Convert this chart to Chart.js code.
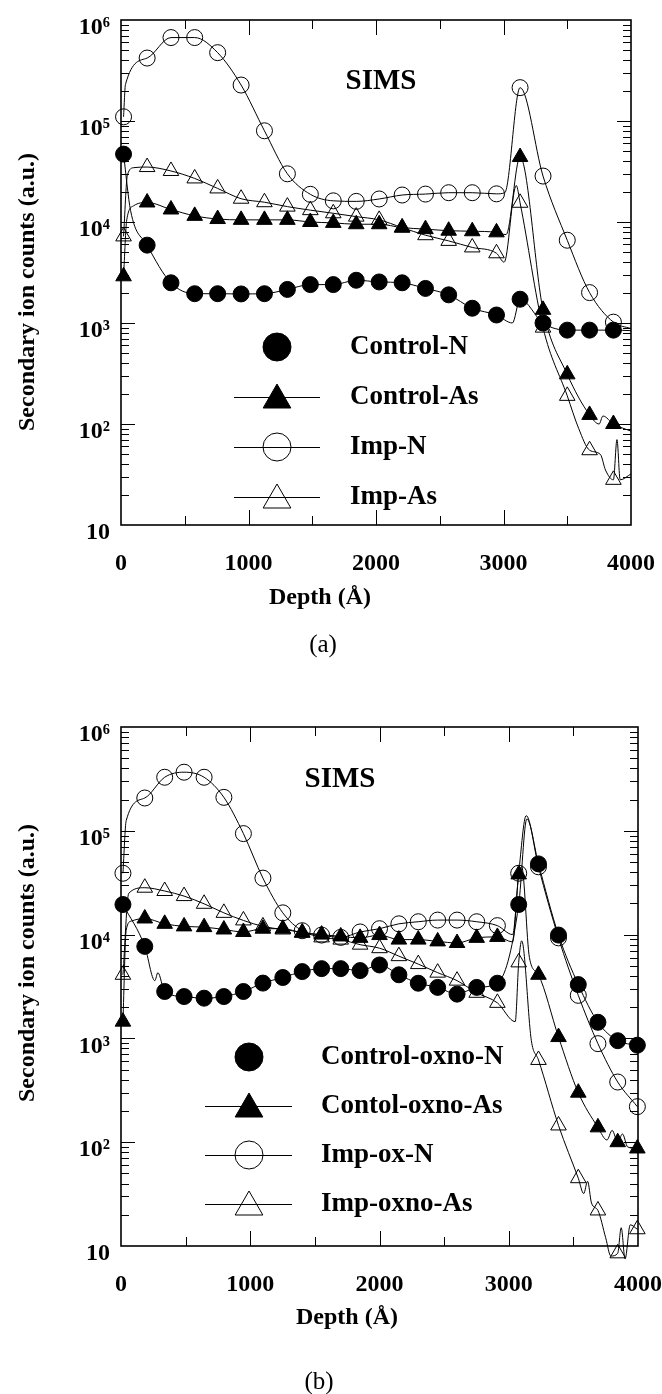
<!DOCTYPE html>
<html>
<head>
<meta charset="utf-8">
<script src="https://cdn.jsdelivr.net/npm/chart.js@4.4.1/dist/chart.umd.min.js"></script>
<style>
  body { margin: 0; background: #fff; }
  .panel { position: absolute; left: 0; width: 662px; height: 697px; }
  #pa { top: 0; }
  #pb { top: 697px; }
</style>
</head>
<body>
<div class="panel" id="pa"><canvas id="chartA"></canvas></div>
<div class="panel" id="pb"><canvas id="chartB"></canvas></div>
<script>
// ---- panel (a) ----
const depthA = [20, 205, 392, 578, 758, 942, 1125, 1305, 1485, 1665, 1845, 2025, 2205, 2388, 2570, 2755, 2945, 3130, 3310, 3500, 3675, 3862];
const controlN = [4.7e4, 5.9e3, 2.5e3, 1.95e3, 1.95e3, 1.94e3, 1.95e3, 2.15e3, 2.4e3, 2.4e3, 2.65e3, 2.55e3, 2.5e3, 2.2e3, 1.9e3, 1.4e3, 1.2e3, 1.72e3, 1.0e3, 8.5e2, 8.5e2, 8.5e2];
const controlAs = [2.9e3, 1.56e4, 1.33e4, 1.15e4, 1.07e4, 1.05e4, 1.05e4, 1.05e4, 1.0e4, 9.8e3, 9.5e3, 9.5e3, 8.8e3, 8.5e3, 8.2e3, 8.1e3, 7.9e3, 4.4e4, 1.35e3, 3.1e2, 1.23e2, 1.0e2];
const impN = [1.1e5, 4.2e5, 6.7e5, 6.7e5, 4.75e5, 2.27e5, 8.0e4, 3.0e4, 1.88e4, 1.62e4, 1.6e4, 1.69e4, 1.85e4, 1.89e4, 1.95e4, 1.95e4, 1.9e4, 2.14e5, 2.85e4, 6.6e3, 2.0e3, 1.02e3];
const impAs = [7.2e3, 3.5e4, 3.2e4, 2.7e4, 2.15e4, 1.7e4, 1.57e4, 1.42e4, 1.31e4, 1.22e4, 1.13e4, 1.05e4, 8.8e3, 7.4e3, 6.5e3, 5.6e3, 4.9e3, 1.55e4, 9.0e2, 1.9e2, 5.5e1, 2.8e1];
// profile points between the markers (no symbol)
const controlN_line = [[75, 1.3e4], [3070, 1.0e3], [4000, 8.4e2]];
const controlAs_line = [[45, 1.05e4], [100, 1.45e4], [3020, 7.5e3], [3750, 1.0e2], [3780, 1.2e2], [4000, 8.5e1]];
const impN_line = [[35, 2.3e5], [3010, 1.95e4], [4000, 8.8e2]];
const impAs_line = [[50, 2.9e4], [100, 3.45e4], [3005, 4.0e3], [3100, 2.3e4], [3590, 9e1], [3760, 5e1], [3800, 3.5e1], [3890, 7e1], [3915, 2.8e1], [4000, 3.2e1]];

// ---- panel (b) ----
const depthB = [15, 184, 338, 488, 643, 796, 947, 1098, 1252, 1402, 1552, 1700, 1850, 2000, 2150, 2300, 2450, 2600, 2752, 2912, 3077, 3230, 3385, 3538, 3690, 3843, 3995];
const controlOxN = [1.95e4, 7.7e3, 2.83e3, 2.53e3, 2.44e3, 2.53e3, 2.83e3, 3.41e3, 3.86e3, 4.4e3, 4.7e3, 4.7e3, 4.5e3, 5.1e3, 4.1e3, 3.4e3, 3.1e3, 2.67e3, 3.1e3, 3.4e3, 1.95e4, 4.8e4, 9.9e3, 3.3e3, 1.43e3, 9.5e2, 8.6e2];
const controlOxAs = [1.45e3, 1.43e4, 1.27e4, 1.2e4, 1.18e4, 1.12e4, 1.06e4, 1.14e4, 1.14e4, 1.04e4, 1.0e4, 9.6e3, 9.3e3, 9.9e3, 8.95e3, 8.95e3, 8.6e3, 8.3e3, 9.3e3, 9.5e3, 3.8e4, 4.1e3, 1.03e3, 3.0e2, 1.39e2, 1.0e2, 8.7e1];
const impOxN = [3.9e4, 2.07e5, 3.28e5, 3.67e5, 3.28e5, 2.1e5, 9.4e4, 3.5e4, 1.62e4, 1.09e4, 9.9e3, 9.4e3, 1.06e4, 1.14e4, 1.27e4, 1.33e4, 1.38e4, 1.38e4, 1.33e4, 1.22e4, 3.9e4, 4.5e4, 9.3e3, 2.6e3, 8.9e2, 3.8e2, 2.2e2];
const impOxAs = [4.1e3, 2.83e4, 2.63e4, 2.35e4, 1.98e4, 1.62e4, 1.37e4, 1.2e4, 1.12e4, 1.05e4, 9.4e3, 8.95e3, 8.0e3, 7.4e3, 6.2e3, 5.2e3, 4.3e3, 3.6e3, 2.75e3, 2.2e3, 5.4e3, 6.2e2, 1.45e2, 4.5e1, 2.2e1, 8.5, 1.45e1];
const controlOxN_line = [[262, 3.6e3], [285, 4.3e3], [3140, 1.3e5]];
const controlOxAs_line = [[40, 1.1e4], [80, 1.35e4], [3030, 8.5e3], [3100, 4.5e4], [3160, 6e3], [3760, 1.05e2], [3800, 1.3e2], [3880, 1.2e2], [3920, 9e1]];
const impOxN_line = [[40, 1.25e5], [3030, 1.0e4], [3135, 1.4e5]];
const impOxAs_line = [[60, 2.5e4], [3050, 1.45e3], [3100, 8.7e3], [3175, 9.5e2], [3580, 3.2e1], [3610, 4.2e1], [3640, 2.6e1], [3750, 1.2e1], [3790, 8], [3870, 1.5e1], [3900, 7.5], [3940, 1.6e1]];

const xTicks = [0, 1000, 2000, 3000, 4000];
const decades = [10, 1e2, 1e3, 1e4, 1e5, 1e6];
const sup = { 1: '', 2: '²', 3: '³', 4: '⁴', 5: '⁵', 6: '⁶' };
const xTitle = 'Depth (Å)';
const yTitle = 'Secondary ion counts (a.u.)';
const serif = '"Liberation Serif", "Times New Roman", serif';

function profile(depth, counts, extra) {
  const pts = depth.map((d, i) => ({ x: d, y: counts[i], m: true }))
    .concat(extra.map(p => ({ x: p[0], y: p[1], m: false })));
  return pts.sort((a, b) => a.x - b.x);
}

function serie(label, pts, style, filled, r, legendLine) {
  return {
    label: label,
    data: pts,
    borderColor: '#000',
    borderWidth: 1,
    cubicInterpolationMode: 'monotone',
    pointStyle: style,
    pointRadius: ctx => (ctx.raw && ctx.raw.m ? r : 0),
    pointBorderWidth: 1,
    pointBorderColor: '#000',
    pointBackgroundColor: filled ? '#000' : 'rgba(0,0,0,0)',
    clip: false,
    legendLine: legendLine
  };
}

// frame with inward ticks on all sides
const frame = {
  id: 'frame',
  beforeDatasetsDraw(chart) {
    const { ctx, chartArea: a, scales: { x, y } } = chart;
    ctx.save();
    ctx.strokeStyle = '#000';
    ctx.lineWidth = 1;
    ctx.beginPath();
    for (let d = 500; d < 4000; d += 500) {
      const px = Math.round(x.getPixelForValue(d)) + 0.5;
      const len = d % 1000 === 0 ? 15 : 9;
      ctx.moveTo(px, a.top); ctx.lineTo(px, a.top + len);
      ctx.moveTo(px, a.bottom); ctx.lineTo(px, a.bottom - len);
    }
    for (let e = 1; e < 6; e++) {
      for (let k = 1; k < 10; k++) {
        if (e === 1 && k === 1) continue;
        const py = Math.round(y.getPixelForValue(k * Math.pow(10, e))) + 0.5;
        const len = k === 1 ? 14 : 8;
        ctx.moveTo(a.left, py); ctx.lineTo(a.left + len, py);
        ctx.moveTo(a.right, py); ctx.lineTo(a.right - len, py);
      }
    }
    ctx.stroke();
    ctx.lineWidth = 1.6;
    ctx.strokeRect(a.left, a.top, a.right - a.left, a.bottom - a.top);
    ctx.restore();
  }
};

// titles, SIMS mark, panel tag and the legend box
const deco = {
  id: 'deco',
  afterDraw(chart, args, o) {
    const ctx = chart.ctx;
    ctx.save();
    ctx.fillStyle = '#000';
    ctx.strokeStyle = '#000';
    ctx.textBaseline = 'middle';
    ctx.textAlign = 'center';
    ctx.font = 'bold 24px ' + serif;
    ctx.fillText(xTitle, o.xTitle[0], o.xTitle[1]);
    ctx.save();
    ctx.translate(o.yTitle[0], o.yTitle[1]);
    ctx.rotate(-Math.PI / 2);
    ctx.fillText(yTitle, 0, 0);
    ctx.restore();
    ctx.font = 'bold 29px ' + serif;
    ctx.fillText('SIMS', o.sims[0], o.sims[1]);
    ctx.font = '25px ' + serif;
    ctx.fillText(o.tag, o.tagPos[0], o.tagPos[1]);

    const lg = o.legend;
    ctx.textAlign = 'left';
    ctx.font = 'bold 27px ' + serif;
    chart.data.datasets.forEach((ds, i) => {
      const cy = lg.y0 + i * lg.gap;
      ctx.lineWidth = 1;
      if (ds.legendLine) {
        ctx.beginPath();
        ctx.moveTo(lg.l0, cy + 0.5);
        ctx.lineTo(lg.l1, cy + 0.5);
        ctx.stroke();
      }
      ctx.fillStyle = ds.pointBackgroundColor;
      const r = ds.pointStyle === 'triangle' ? 16 : 14;
      const dy = ds.pointStyle === 'triangle' ? 3 : 0;
      Chart.helpers.drawPoint(ctx, { pointStyle: ds.pointStyle, radius: r, borderWidth: 1, rotation: 0 }, lg.mx, cy + dy);
      ctx.fillStyle = '#000';
      ctx.fillText(ds.label, lg.tx, cy);
    });
    ctx.restore();
  }
};

function decadeLabel(v) {
  const e = Math.round(Math.log10(v));
  if (Math.abs(v - Math.pow(10, e)) > 1e-6 * v) return '';
  return '10' + sup[e];
}

function makeChart(id, sets, lay) {
  const tickFont = { family: serif, size: 24, weight: 'bold' };
  return new Chart(document.getElementById(id), {
    type: 'line',
    data: { datasets: sets },
    options: {
      responsive: true,
      maintainAspectRatio: false,
      animation: false,
      layout: { padding: { top: lay.top, right: lay.right, left: 0, bottom: 0 } },
      plugins: { legend: { display: false }, tooltip: { enabled: false }, deco: lay.deco },
      scales: {
        x: {
          type: 'linear', min: 0, max: 4000,
          grid: { display: false }, border: { display: false },
          afterBuildTicks: s => { s.ticks = xTicks.map(v => ({ value: v })); },
          ticks: { callback: v => String(v), padding: 16, font: tickFont, color: '#000', maxRotation: 0, autoSkip: false },
          afterFit: s => { s.height = lay.xh; s.paddingLeft = 0; s.paddingRight = 0; }
        },
        y: {
          type: 'logarithmic', min: 10, max: 1e6,
          grid: { display: false }, border: { display: false },
          afterBuildTicks: s => { s.ticks = decades.map(v => ({ value: v, major: true })); },
          ticks: { callback: v => decadeLabel(v), padding: 3, labelOffset: 8, font: tickFont, color: '#000', autoSkip: false },
          afterFit: s => { s.width = 121; s.paddingTop = 0; s.paddingBottom = 0; }
        }
      }
    },
    plugins: [frame, deco]
  });
}

makeChart('chartA', [
  serie('Control-N', profile(depthA, controlN, controlN_line), 'circle', true, 8, false),
  serie('Control-As', profile(depthA, controlAs, controlAs_line), 'triangle', true, 9, true),
  serie('Imp-N', profile(depthA, impN, impN_line), 'circle', false, 8, true),
  serie('Imp-As', profile(depthA, impAs, impAs_line), 'triangle', false, 9, true)
], {
  top: 20, right: 31, xh: 172,
  deco: {
    xTitle: [320, 598], yTitle: [28, 292], sims: [381, 82], tag: '(a)', tagPos: [323, 645],
    legend: { y0: 347, gap: 50, mx: 277, l0: 234, l1: 320, tx: 350 }
  }
});

makeChart('chartB', [
  serie('Control-oxno-N', profile(depthB, controlOxN, controlOxN_line), 'circle', true, 8, false),
  serie('Contol-oxno-As', profile(depthB, controlOxAs, controlOxAs_line), 'triangle', true, 9, true),
  serie('Imp-ox-N', profile(depthB, impOxN, impOxN_line), 'circle', false, 8, true),
  serie('Imp-oxno-As', profile(depthB, impOxAs, impOxAs_line), 'triangle', false, 9, true)
], {
  top: 30, right: 24, xh: 148,
  deco: {
    xTitle: [347, 621], yTitle: [28, 266], sims: [340, 83], tag: '(b)', tagPos: [319, 685],
    legend: { y0: 360, gap: 49, mx: 249, l0: 205, l1: 292, tx: 321 }
  }
});
</script>
</body>
</html>
